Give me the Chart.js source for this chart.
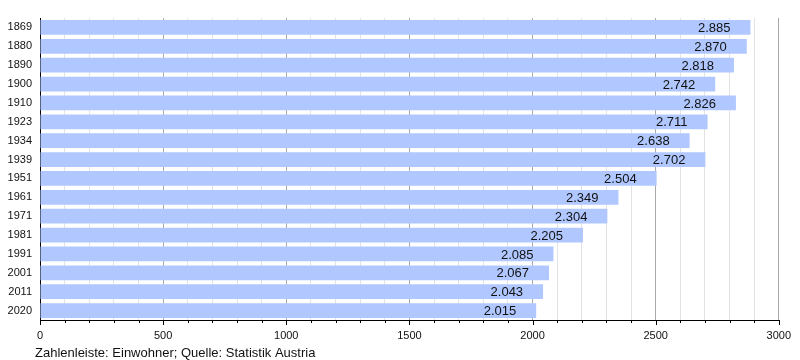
<!DOCTYPE html>
<html>
<head>
<meta charset="utf-8">
<script src="https://cdn.jsdelivr.net/npm/chart.js@4/dist/chart.umd.min.js"></script>
<style>
    html, body { margin: 0; padding: 0; background: #fff; }
    #wrap { width: 800px; height: 360px; position: relative; }
</style>
</head>
<body>
<div id="wrap"><canvas id="barChart" width="800" height="360"></canvas></div>
<script>
    const years = ['1869', '1880', '1890', '1900', '1910', '1923', '1934', '1939',
        '1951', '1961', '1971', '1981', '1991', '2001', '2011', '2020'];
    const population = [2885, 2870, 2818, 2742, 2826, 2711, 2638, 2702,
        2504, 2349, 2304, 2205, 2085, 2067, 2043, 2015];
    const caption = 'Zahlenleiste: Einwohner; Quelle: Statistik Austria';
    const fontFamily = '"Liberation Sans", Arial, Helvetica, sans-serif';

    function formatNumber(v) {
        // German thousands separator, e.g. 2.885
        if (v < 1000) return String(v);
        return Math.floor(v / 1000) + '.' + String(v % 1000).padStart(3, '0');
    }

    // value labels inside the bar end, axis tick marks and the caption
    const extras = {
        id: 'extras',
        afterDatasetsDraw(chart) {
            const ctx = chart.ctx;
            const meta = chart.getDatasetMeta(0);
            ctx.save();
            ctx.font = '13px ' + fontFamily;
            ctx.fillStyle = '#111';
            ctx.textAlign = 'right';
            ctx.textBaseline = 'middle';
            meta.data.forEach(function (bar, i) {
                ctx.fillText(formatNumber(population[i]), bar.x - 20, bar.y + 1);
            });
            ctx.restore();
        },
        afterDraw(chart) {
            const ctx = chart.ctx;
            const xScale = chart.scales.x;
            const bottom = chart.chartArea.bottom;
            ctx.save();
            ctx.strokeStyle = '#000';
            ctx.lineWidth = 1;
            xScale.ticks.forEach(function (t) {
                const px = Math.round(xScale.getPixelForValue(t.value)) + 0.5;
                const len = t.value % 500 === 0 ? 5 : 3;
                ctx.beginPath();
                ctx.moveTo(px, bottom);
                ctx.lineTo(px, bottom + len);
                ctx.stroke();
            });
            ctx.font = '13px ' + fontFamily;
            ctx.fillStyle = '#111';
            ctx.textAlign = 'left';
            ctx.textBaseline = 'alphabetic';
            ctx.fillText(caption, 35, 357);
            ctx.restore();
        }
    };

    const barCtx = document.getElementById('barChart').getContext('2d');
    const barChart = new Chart(barCtx, {
        type: 'bar',
        data: {
            labels: years,
            datasets: [{
                label: 'Einwohner',
                data: population,
                backgroundColor: '#b0c8ff',
                borderWidth: 0,
                barPercentage: 0.86,
                categoryPercentage: 0.91
            }]
        },
        options: {
            indexAxis: 'y',
            responsive: false,
            animation: false,
            layout: {
                padding: { top: 18, right: 20, left: 0, bottom: 0 }
            },
            scales: {
                x: {
                    min: 0,
                    max: 3000,
                    afterFit: function (scale) { scale.height = 40; },
                    ticks: {
                        stepSize: 100,
                        autoSkip: false,
                        maxRotation: 0,
                        padding: 9,
                        color: '#111',
                        font: { size: 11, family: fontFamily },
                        callback: function (value) {
                            return value % 500 === 0 ? String(value) : '';
                        }
                    },
                    grid: {
                        drawTicks: false,
                        color: function (c) {
                            return c.tick && c.tick.value % 500 === 0 ? '#a9a9a9' : '#e3e3e3';
                        }
                    },
                    border: { color: '#000', width: 1 }
                },
                y: {
                    afterFit: function (scale) { scale.width = 40; },
                    ticks: {
                        padding: 8,
                        color: '#111',
                        font: { size: 11, family: fontFamily }
                    },
                    grid: { display: false, drawTicks: false },
                    border: { color: '#000', width: 1 }
                }
            },
            plugins: {
                legend: { display: false },
                tooltip: { enabled: false }
            }
        },
        plugins: [extras]
    });
</script>
</body>
</html>
